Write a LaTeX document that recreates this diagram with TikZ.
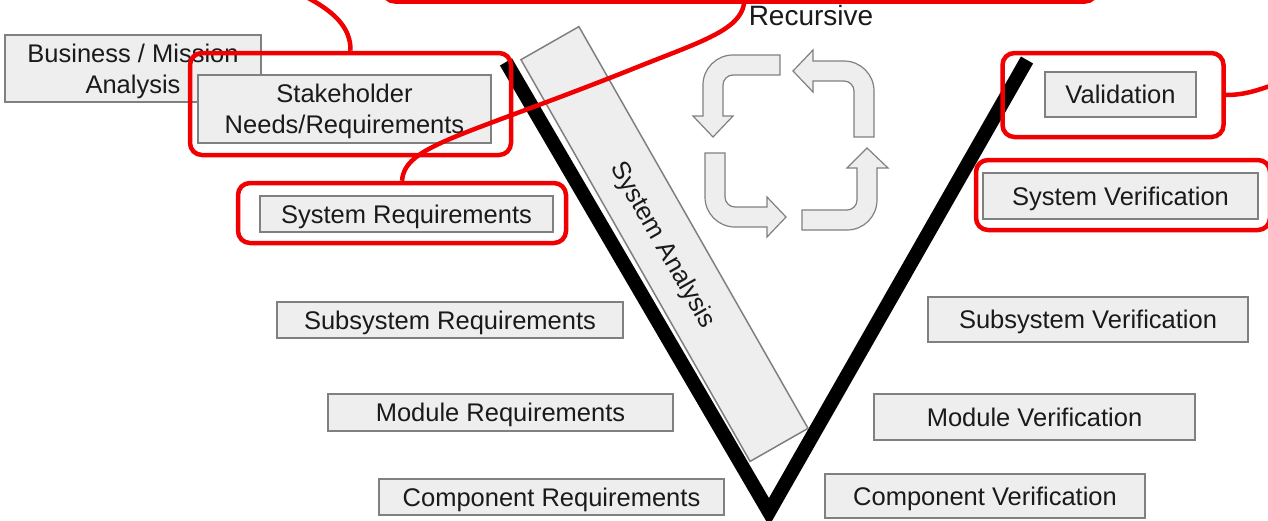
\documentclass[tikz,border=0pt]{standalone}
\usepackage{fontspec}
\setmainfont{Liberation Sans}
\definecolor{boxfill}{HTML}{EEEEEE}
\definecolor{boxline}{HTML}{808080}
\definecolor{txt}{HTML}{1A1A1A}
\definecolor{hl}{HTML}{F00000}
\begin{document}
\begin{tikzpicture}[x=1pt,y=-1pt,
  box/.style={draw=boxline, fill=boxfill, line width=1.5pt, inner sep=0pt, text=txt,
              font=\fontsize{25.5}{31}\selectfont, align=center,
              text height=18.3pt, text depth=0pt},
  boxtwo/.style={box, text height=49.3pt, text depth=0pt},
  hlbox/.style={draw=hl, line width=4.5pt, rounded corners=12pt, inner sep=0pt},
  hlline/.style={draw=hl, line width=4.5pt},
  cyc/.style={draw=boxline, fill=boxfill, line width=1.2pt, line join=miter},
  vline/.style={draw=black, line width=14pt, line join=miter}]
\useasboundingbox (0,0) rectangle (1268,520);
\fill[white] (0,0) rectangle (1268,520);
\clip (0,0) rectangle (1268,520);

% left side boxes
\node[boxtwo, minimum width=256pt, minimum height=67pt] (bma) at (133,68.5) {Business / Mission\\Analysis};
\node[boxtwo, minimum width=293pt, minimum height=68pt] (snr) at (344.5,109) {Stakeholder\\Needs/Requirements};
\node[box, minimum width=293pt, minimum height=36pt] (sr) at (406.5,214) {System Requirements};
\node[box, minimum width=346pt, minimum height=36pt] (ssr) at (450,320) {Subsystem Requirements};
\node[box, minimum width=345pt, minimum height=37pt] (mr) at (500.5,412.5) {Module Requirements};
\node[box, minimum width=345pt, minimum height=36pt] (cr) at (551.5,497) {Component Requirements};

% right side boxes
\node[box, minimum width=151pt, minimum height=45pt] (val) at (1120.5,94.5) {Validation};
\node[box, minimum width=275pt, minimum height=46pt] (sv) at (1120.5,196) {System Verification};
\node[box, minimum width=320pt, minimum height=45pt] (ssv) at (1088,319.5) {Subsystem Verification};
\node[box, minimum width=321pt, minimum height=46pt] (mv) at (1034.5,417) {Module Verification};
\node[box, minimum width=320pt, minimum height=44pt] (cv) at (985,496) {Component Verification};

% V
\coordinate (vl) at (506,62);
\coordinate (vb) at (769,512);
\coordinate (vr) at (1027,60);
\draw[vline] (vl) -- (vb) -- (vr);

% System Analysis bar
\node[box, minimum width=462.5pt, minimum height=66.7pt, rotate=-60.3] (sa) at (664.5,244) {System Analysis};

% Recursive
\node[text=txt, font=\fontsize{28}{30}\selectfont, inner sep=0pt] (rec) at (811,15) {Recursive};

% cycle arrows
\draw[cyc] (780,55) -- (733,55) .. controls (716.4,55) and (703,68.4) .. (703,85)
  -- (703,116) -- (693,116) -- (713,137) -- (733,116) -- (723,116) -- (723,85)
  .. controls (723,79.5) and (727.5,75) .. (733,75) -- (780,75) -- cycle;
\draw[cyc] (813,61) -- (844,61) .. controls (860.6,61) and (874,74.4) .. (874,91)
  -- (874,137) -- (854,137) -- (854,91) .. controls (854,85.5) and (849.5,81) .. (844,81)
  -- (813,81) -- (813,92) -- (793,71) -- (813,50) -- cycle;
\draw[cyc] (802,210) -- (847,210) .. controls (852.5,210) and (857,205.5) .. (857,200)
  -- (857,168) -- (847,168) -- (867,148) -- (888,168) -- (877,168) -- (877,200)
  .. controls (877,216.6) and (863.6,230) .. (847,230) -- (802,230) -- cycle;
\draw[cyc] (705,153) -- (705,197) .. controls (705,213.6) and (718.4,227) .. (735,227)
  -- (767,227) -- (767,237) -- (786,217) -- (767,197) -- (767,207) -- (735,207)
  .. controls (729.5,207) and (725,202.5) .. (725,197) -- (725,153) -- cycle;

% red highlight boxes
\node[hlbox, minimum width=321pt, minimum height=102pt] (redA) at (350.5,104) {};
\node[hlbox, minimum width=328pt, minimum height=60pt] (redB) at (402,213) {};
\node[hlbox, minimum width=221pt, minimum height=84pt] (redV) at (1113,95) {};
\node[hlbox, minimum width=294pt, minimum height=70pt] (redS) at (1123,195) {};
\node[hlbox, minimum width=714pt, minimum height=80pt] (topbox) at (740,-38.5) {};

% red connectors
\coordinate (c1) at (296,-8);
\coordinate (c4) at (1276,84);
\draw[hlline] (c1) .. controls (335,10) and (351,28) .. (redA.north);
\draw[hlline] ([xshift=4pt]topbox.south) .. controls (740,30) and (700,42) .. (640,66)
  .. controls (460,138) and (405,145) .. (redB.north);
\draw[hlline] (redV.east) .. controls (1245,95) and (1258,90) .. (c4);
\end{tikzpicture}
\end{document}
